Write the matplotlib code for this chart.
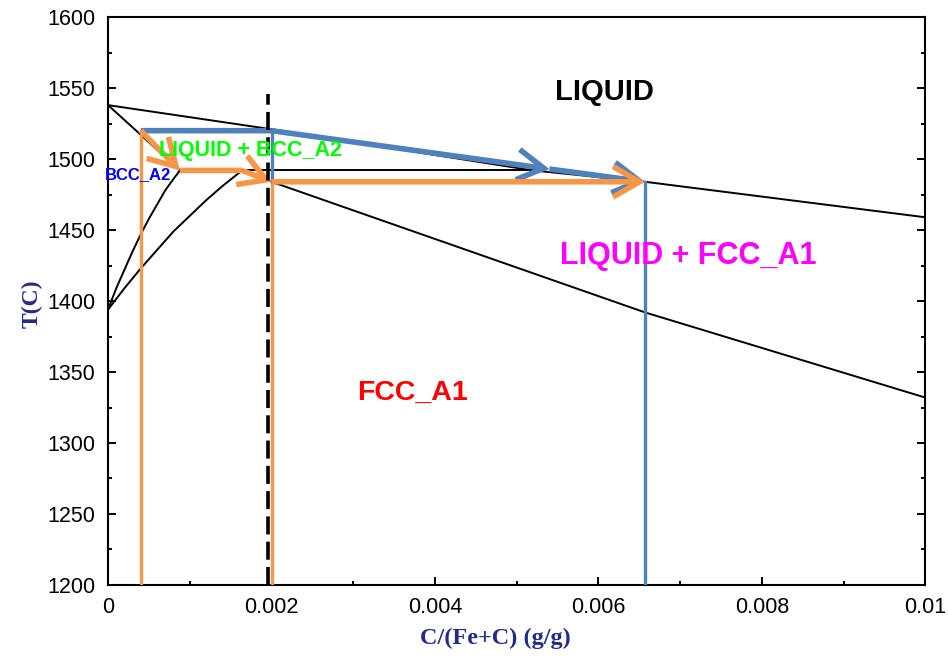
import numpy as np
import matplotlib
matplotlib.use('Agg')
from matplotlib import pyplot as plt
from matplotlib.ticker import MultipleLocator

# phase boundaries (x = C/(Fe+C), T in C)
liquidus_x = [0.0, 0.002, 0.0052, 0.00657, 0.01]
liquidus_t = [1538, 1521, 1492, 1484, 1459]
bcc_solidus_x = [0.0, 0.00088]
bcc_solidus_t = [1538, 1492]
peritectic_x = [0.00088, 0.0052]
peritectic_t = [1492, 1492]
bcc_boundary_x = [0.0, 0.0001, 0.0002, 0.0003, 0.0004, 0.0005, 0.0006, 0.0007, 0.0008, 0.00088]
bcc_boundary_t = [1394, 1409, 1422, 1435, 1447, 1458, 1468, 1478, 1486, 1492]
fcc_boundary_x = [0.0, 0.0002, 0.0004, 0.0006, 0.0008, 0.001, 0.0012, 0.0014, 0.00164]
fcc_boundary_t = [1394, 1409, 1423, 1436, 1449, 1460, 1471, 1481, 1492]
fcc_solidus_x = [0.00164, 0.002, 0.00657, 0.01]
fcc_solidus_t = [1492, 1484, 1392, 1332]

# cooling paths
x_alloy_a = 0.0004
x_alloy_b = 0.002
x_dashed = 0.00196
x_liq_end = 0.00657
t_start = 1520
t_perit = 1492
t_tie = 1484
t_min = 1200
t_dash_top = 1546
blue_mid = (0.0054, 1493)
orange_mid = (0.00164, 1492)

labels = ['LIQUID', 'LIQUID + BCC_A2', 'BCC_A2', 'LIQUID + FCC_A1', 'FCC_A1']
label_x = [0.00608, 0.00174, 0.00037, 0.0071, 0.00372]
label_t = [1547, 1506, 1489, 1432, 1335]
label_c = ['black', '#00ff00', '#0000ff', '#ff00ff', '#ff0000']
label_s = [21, 15.5, 12, 22, 20.5]

blue = '#4f81bd'
orange = '#f79646'
navy = '#232a8c'

plt.rcParams['font.family'] = ['Liberation Sans', 'DejaVu Sans']

fig = plt.figure(figsize=(9.48, 6.58), dpi=100)
ax = fig.add_axes([0.114, 0.111, 0.862, 0.863])

# black phase lines
for xs, ts in [(liquidus_x, liquidus_t), (bcc_solidus_x, bcc_solidus_t),
               (peritectic_x, peritectic_t), (bcc_boundary_x, bcc_boundary_t),
               (fcc_boundary_x, fcc_boundary_t), (fcc_solidus_x, fcc_solidus_t)]:
    ax.plot(xs, ts, color='black', lw=1.4, zorder=3)

# thin verticals
ax.plot([x_alloy_a, x_alloy_a], [t_min, t_start], color=orange, lw=2.4, zorder=4)
ax.plot([x_alloy_b, x_alloy_b], [t_min, t_tie], color=orange, lw=2.4, zorder=4)
ax.plot([x_alloy_b, x_alloy_b], [t_tie, t_start], color=blue, lw=2.4, zorder=4)
ax.plot([x_liq_end, x_liq_end], [t_min, t_tie], color=blue, lw=2.4, zorder=4)
ax.plot([x_dashed, x_dashed], [t_min, t_dash_top], color='black', lw=2.6,
        ls=(0, (5, 2)), zorder=6)

arrow = '->,head_length=0.95,head_width=0.55'


def arr(p0, p1, c, head=True):
    style = arrow if head else '-'
    ax.annotate('', xy=p1, xytext=p0, zorder=5,
                arrowprops=dict(arrowstyle=style, color=c, lw=4,
                                shrinkA=0, shrinkB=0, mutation_scale=20,
                                joinstyle='miter', capstyle='butt'))


# blue path
arr((x_alloy_a, t_start), (x_alloy_b, t_start), blue, head=False)
arr((x_alloy_b, t_start), blue_mid, blue)
arr(blue_mid, (x_liq_end, t_tie), blue)

# orange path
arr((x_alloy_a, t_start), (0.00088, t_perit), orange)
arr((0.00088, t_perit), orange_mid, orange, head=False)
arr(orange_mid, (x_alloy_b, t_tie), orange)
arr((x_alloy_b, t_tie), (x_liq_end, t_tie), orange)

for s, x, t, c, fs in zip(labels, label_x, label_t, label_c, label_s):
    ax.text(x, t, s, color=c, fontsize=fs, fontweight='bold',
            ha='center', va='center', zorder=7)

ax.set_xlim(0, 0.01)
ax.set_ylim(1200, 1600)
ax.xaxis.set_minor_locator(MultipleLocator(0.001))
ax.yaxis.set_major_locator(MultipleLocator(50))
ax.yaxis.set_minor_locator(MultipleLocator(25))
ax.set_xticks([0, 0.002, 0.004, 0.006, 0.008, 0.01])
ax.set_xticklabels(['0', '0.002', '0.004', '0.006', '0.008', '0.01'])

ax.tick_params(which='both', direction='in', left=True, right=True,
               bottom=True, top=False, width=1.4, labelsize=15.5)
ax.tick_params(which='major', length=6)
ax.tick_params(which='minor', length=3)
ax.tick_params(axis='y', pad=9)
ax.tick_params(axis='x', pad=9)
for sp in ax.spines.values():
    sp.set_linewidth(1.5)

ax.set_xlabel('C/(Fe+C) (g/g)', family='Liberation Serif', fontweight='bold',
              fontsize=17.5, color=navy)
ax.xaxis.set_label_coords(0.474, -0.075)
ax.set_ylabel('T(C)', family='Liberation Serif', fontweight='bold',
              fontsize=17, color=navy)
ax.yaxis.set_label_coords(-0.08, 0.495)

fig.savefig('out.png', dpi=100)
